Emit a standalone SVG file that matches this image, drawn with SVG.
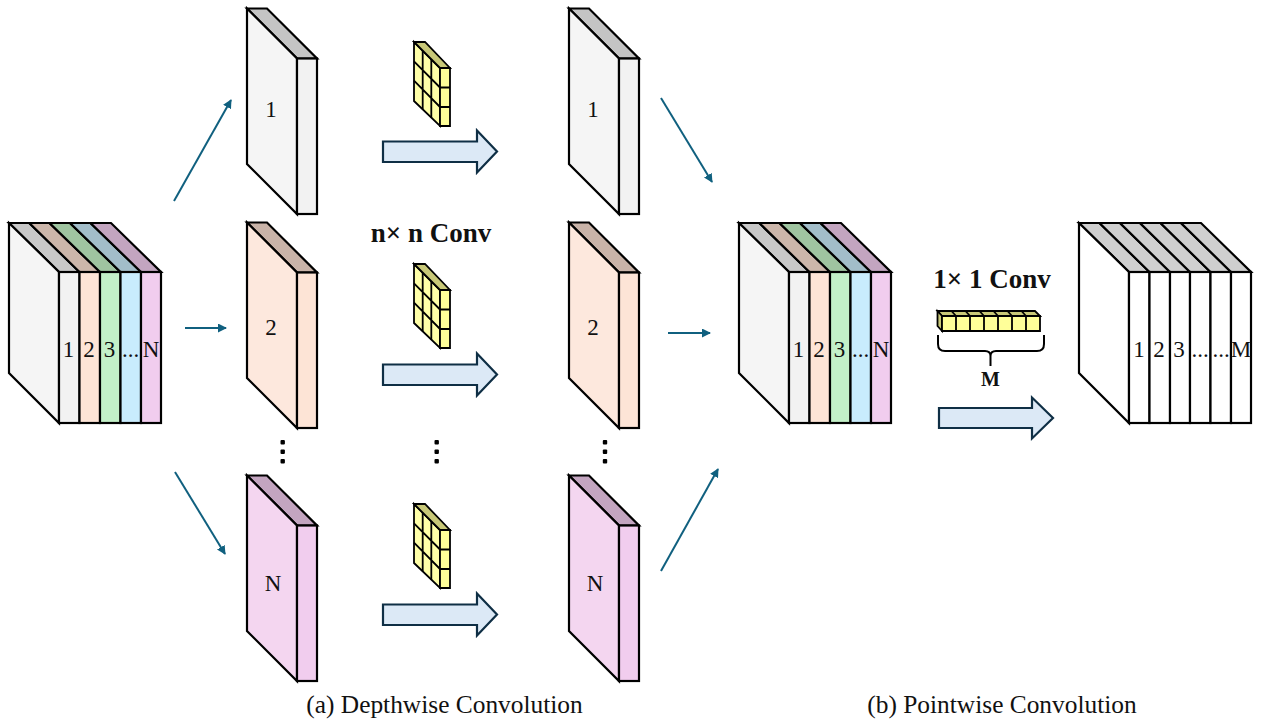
<svg xmlns="http://www.w3.org/2000/svg" xmlns:xlink="http://www.w3.org/1999/xlink" width="1263" height="723" viewBox="0 0 1263 723">
<style>
text{font-family:"Liberation Serif","Times New Roman",serif;fill:#111;text-anchor:middle}
.n{font-size:23px}
.b{font-size:27px;font-weight:bold}
.c{font-size:25.400px}
.s{stroke:#000;stroke-width:2.200;stroke-linejoin:miter}
.con{stroke:#10607f;stroke-width:2;fill:none;marker-end:url(#ah)}
.k{stroke:#000;stroke-width:1.800;stroke-linejoin:miter}
.ba{fill:#dce9f6;stroke:#0f2f45;stroke-width:2.200}
.d{fill:#000}
</style>
<defs>
<marker id="ah" markerUnits="userSpaceOnUse" markerWidth="9" markerHeight="9" viewBox="0 0 9 9" refX="8" refY="4.5" orient="auto"><path d="M0 0L9 4.5L0 9Z" fill="#10607f"/></marker>
<g id="kernel">
<path class="k" fill="#ffffa8" d="M414 42L440 68V126L414 101Z"/>
<path class="k" fill="#c8c878" d="M414 42H425L450 68H440Z"/>
<path class="k" fill="#ffff99" d="M440 68H450V126H440Z"/>
<path class="k" fill="none" d="M440 87.500H450M440 107H450M422.700 50.700V109.300M431.300 59.300V117.700M414 61.300L440 87.500M414 80.700L440 107"/>
</g>
<path id="bigarrow" class="ba" d="M383 141.500H477V130.500L497 151.500L477 172.500V162H383Z"/>
</defs>
<g id="stack-in">
<path class="s" fill="#c8c8c8" d="M9 223H29.300L79.500 272H59Z"/><path class="s" fill="#ccb6aa" d="M29.300 223H49.500L100 272H79.500Z"/><path class="s" fill="#9fc4a0" d="M49.500 223H70L120.500 272H100Z"/><path class="s" fill="#a2bdc9" d="M70 223H90.500L141 272H120.500Z"/><path class="s" fill="#c3a5c0" d="M90.500 223H111L161 272H141Z"/>
<path class="s" fill="#f5f5f5" d="M9 223L59 272V423L9 373Z"/>
<rect class="s" x="59" y="272" width="20.500" height="151" fill="#f2f2f2"/><rect class="s" x="79.500" y="272" width="20.500" height="151" fill="#fde4d6"/><rect class="s" x="100" y="272" width="20.500" height="151" fill="#c3f0c8"/><rect class="s" x="120.500" y="272" width="20.500" height="151" fill="#c9ecfd"/><rect class="s" x="141" y="272" width="20" height="151" fill="#f1cdee"/>
<text class="n" x="68.500" y="357">1</text><text class="n" x="89" y="357">2</text><text class="n" x="109.500" y="357">3</text><text class="n" x="130.500" y="357">...</text><text class="n" x="151" y="357">N</text>
</g>
<g id="slab-1a"><path class="s" fill="#c4c4c4" d="M247 8.500H267L317 58.500H297Z"/><path class="s" fill="#f5f5f5" d="M247 8.500L297 58.500V214L247 164Z"/><rect class="s" x="297" y="58.500" width="20" height="155.500" fill="#f2f2f2"/><text class="n" x="271" y="117">1</text></g>
<g id="slab-2a"><path class="s" fill="#c9b3a8" d="M247 222.500H267L317 272.500H297Z"/><path class="s" fill="#fde8dd" d="M247 222.500L297 272.500V428L247 378Z"/><rect class="s" x="297" y="272.500" width="20" height="155.500" fill="#fde4d6"/><text class="n" x="271" y="335">2</text></g>
<g id="slab-Na"><path class="s" fill="#c3a5c0" d="M247 475.500H267L317 525.500H297Z"/><path class="s" fill="#f4d6f0" d="M247 475.500L297 525.500V681L247 631Z"/><rect class="s" x="297" y="525.500" width="20" height="155.500" fill="#f1cdee"/><text class="n" x="273" y="591">N</text></g>
<g id="slab-1b"><path class="s" fill="#c4c4c4" d="M569 8.500H589L639 58.500H619Z"/><path class="s" fill="#f5f5f5" d="M569 8.500L619 58.500V214L569 164Z"/><rect class="s" x="619" y="58.500" width="20" height="155.500" fill="#f2f2f2"/><text class="n" x="593" y="117">1</text></g>
<g id="slab-2b"><path class="s" fill="#c9b3a8" d="M569 222.500H589L639 272.500H619Z"/><path class="s" fill="#fde8dd" d="M569 222.500L619 272.500V428L569 378Z"/><rect class="s" x="619" y="272.500" width="20" height="155.500" fill="#fde4d6"/><text class="n" x="593" y="335">2</text></g>
<g id="slab-Nb"><path class="s" fill="#c3a5c0" d="M569 475.500H589L639 525.500H619Z"/><path class="s" fill="#f4d6f0" d="M569 475.500L619 525.500V681L569 631Z"/><rect class="s" x="619" y="525.500" width="20" height="155.500" fill="#f1cdee"/><text class="n" x="595" y="591">N</text></g>
<g id="stack-mid">
<path class="s" fill="#c8c8c8" d="M739 223H759.300L809.500 272H789Z"/><path class="s" fill="#ccb6aa" d="M759.300 223H779.500L830 272H809.500Z"/><path class="s" fill="#9fc4a0" d="M779.500 223H800L850.500 272H830Z"/><path class="s" fill="#a2bdc9" d="M800 223H820.500L871 272H850.500Z"/><path class="s" fill="#c3a5c0" d="M820.500 223H841L891 272H871Z"/>
<path class="s" fill="#f5f5f5" d="M739 223L789 272V423L739 373Z"/>
<rect class="s" x="789" y="272" width="20.500" height="151" fill="#f2f2f2"/><rect class="s" x="809.500" y="272" width="20.500" height="151" fill="#fde4d6"/><rect class="s" x="830" y="272" width="20.500" height="151" fill="#c3f0c8"/><rect class="s" x="850.500" y="272" width="20.500" height="151" fill="#c9ecfd"/><rect class="s" x="871" y="272" width="20" height="151" fill="#f1cdee"/>
<text class="n" x="798.500" y="357">1</text><text class="n" x="819" y="357">2</text><text class="n" x="839.500" y="357">3</text><text class="n" x="860.500" y="357">...</text><text class="n" x="881" y="357">N</text>
</g>
<g id="stack-out">
<path class="s" fill="#cfcfcf" d="M1079 223H1099.500L1149.500 272H1129Z"/><path class="s" fill="#cfcfcf" d="M1099.500 223H1120L1170 272H1149.500Z"/><path class="s" fill="#cfcfcf" d="M1120 223H1140L1190 272H1170Z"/><path class="s" fill="#cfcfcf" d="M1140 223H1160.500L1210.500 272H1190Z"/><path class="s" fill="#cfcfcf" d="M1160.500 223H1181L1231 272H1210.500Z"/><path class="s" fill="#cfcfcf" d="M1181 223H1201L1251 272H1231Z"/>
<path class="s" fill="#fff" d="M1079 223L1129 272V423L1079 373Z"/>
<rect class="s" x="1129" y="272" width="20.500" height="151" fill="#fff"/><rect class="s" x="1149.500" y="272" width="20.500" height="151" fill="#fff"/><rect class="s" x="1170" y="272" width="20" height="151" fill="#fff"/><rect class="s" x="1190" y="272" width="20.500" height="151" fill="#fff"/><rect class="s" x="1210.500" y="272" width="20.500" height="151" fill="#fff"/><rect class="s" x="1231" y="272" width="20" height="151" fill="#fff"/>
<text class="n" x="1139" y="357">1</text><text class="n" x="1159" y="357">2</text><text class="n" x="1179" y="357">3</text><text class="n" x="1200" y="357">...</text><text class="n" x="1221" y="357">...</text><text class="n" x="1241" y="357">M</text>
</g>
<g id="kernels">
<use xlink:href="#kernel" href="#kernel"/>
<use xlink:href="#kernel" href="#kernel" y="222"/>
<use xlink:href="#kernel" href="#kernel" y="462"/>
</g>
<g id="kernel-1x1">
<path class="k" fill="#c8c878" d="M937.500 311H1035L1040 316H942Z"/>
<path class="k" fill="#c8c878" d="M937.500 311L942 316V331L937.500 326Z"/>
<path class="k" fill="#ffff99" d="M942 316H1040V331H942Z"/>
<path class="k" fill="none" d="M956 316V331M970 316V331M984 316V331M998 316V331M1012 316V331M1026 316V331M951.500 311L956 316M965.500 311L970 316M979.500 311L984 316M993.500 311L998 316M1007.500 311L1012 316M1021.500 311L1026 316"/>
<path fill="none" stroke="#000" stroke-width="2" d="M938 335V344Q938 351 945 351H985Q990.500 351 990.500 356V366M990.500 356Q990.500 351 996 351H1037Q1044 351 1044 344V335"/>
</g>
<g id="block-arrows">
<use xlink:href="#bigarrow" href="#bigarrow"/>
<use xlink:href="#bigarrow" href="#bigarrow" y="223"/>
<use xlink:href="#bigarrow" href="#bigarrow" y="463"/>
<path class="ba" d="M939 408H1032V397.500L1053 418L1032 438.500V428H939Z"/>
</g>
<g id="dots">
<rect class="d" x="280.500" y="440" width="4.400" height="4.400" rx="1"/><rect class="d" x="280.500" y="449.500" width="4.400" height="4.400" rx="1"/><rect class="d" x="280.500" y="459" width="4.400" height="4.400" rx="1"/>
<rect class="d" x="434.500" y="440" width="4.400" height="4.400" rx="1"/><rect class="d" x="434.500" y="449.500" width="4.400" height="4.400" rx="1"/><rect class="d" x="434.500" y="459" width="4.400" height="4.400" rx="1"/>
<rect class="d" x="602.800" y="440" width="4.400" height="4.400" rx="1"/><rect class="d" x="602.800" y="449.500" width="4.400" height="4.400" rx="1"/><rect class="d" x="602.800" y="459" width="4.400" height="4.400" rx="1"/>
</g>
<g id="connectors">
<path class="con" d="M174 201L231 100"/>
<path class="con" d="M185 328H226"/>
<path class="con" d="M175 472L225 554"/>
<path class="con" d="M661 98L712 182"/>
<path class="con" d="M668 333H710"/>
<path class="con" d="M661 571L718 469"/>
</g>
<g id="labels">
<text class="b" x="431" y="242">n× n Conv</text>
<text class="b" x="992" y="288">1× 1 Conv</text>
<text x="990.500" y="386" font-size="20" font-weight="bold">M</text>
<text class="c" x="444.500" y="713">(a) Depthwise Convolution</text>
<text class="c" x="1002" y="713">(b) Pointwise Convolution</text>
</g>
</svg>
